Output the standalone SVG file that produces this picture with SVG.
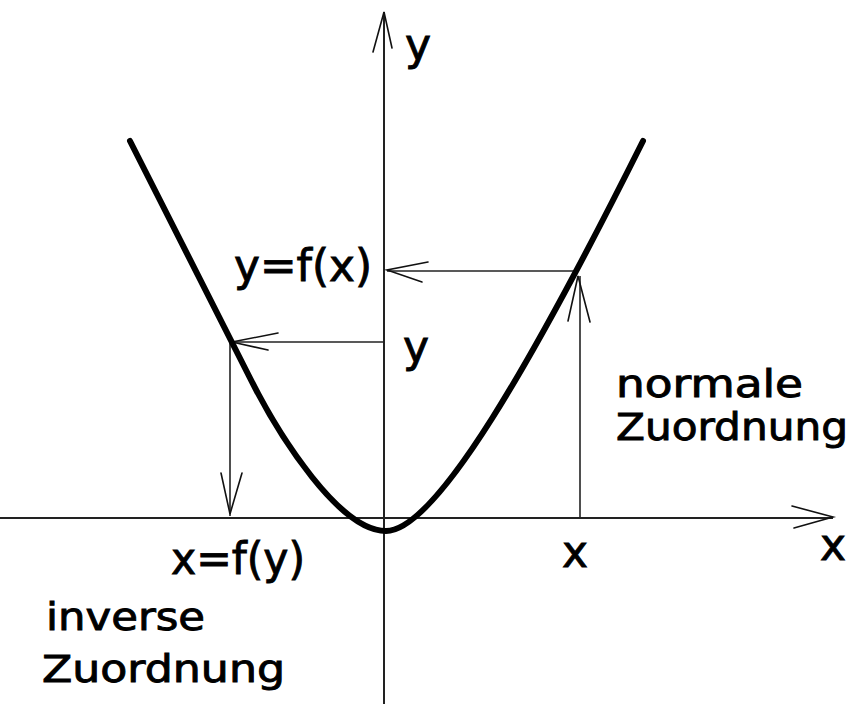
<svg xmlns="http://www.w3.org/2000/svg" width="855" height="704" viewBox="0 0 855 704">
<style>
.ax{stroke:#222;stroke-width:2;fill:none}
.ln{stroke:#222;stroke-width:1.6;fill:none}
.hd{stroke:#111;stroke-width:1.6;fill:none;stroke-linecap:round}
.crv{stroke:#000;stroke-width:6;fill:none;stroke-linecap:round;stroke-linejoin:round}
.m{font-family:"DejaVu Sans",sans-serif;font-size:44px;fill:#000;stroke:#000;stroke-width:0.9}
.w{font-family:"DejaVu Sans",sans-serif;font-size:37px;fill:#000;stroke:#000;stroke-width:0.9}
</style>
<rect width="855" height="704" fill="#fff"/>
<g id="connectors">
  <g id="x-axis">
    <line class="ax" x1="0" y1="518" x2="833" y2="518"/>
    <path class="hd" d="M792,506 L833,517 L794,528"/>
  </g>
  <g id="y-axis">
    <line class="ax" x1="384" y1="704" x2="384" y2="12"/>
    <path class="hd" d="M373,52 L384,12 L392,48"/>
  </g>
  <g id="arrow-up-x">
    <line class="ln" x1="580" y1="518" x2="580" y2="276"/>
    <path class="hd" d="M568,321 L578,276 L590,322"/>
  </g>
  <g id="arrow-left-fx">
    <line class="ln" x1="577" y1="271" x2="387" y2="271"/>
    <path class="hd" d="M428,262 L387,270 L422,282"/>
  </g>
  <g id="arrow-left-y">
    <line class="ln" x1="384" y1="342" x2="232" y2="342"/>
    <path class="hd" d="M278,333 L232,342 L268,350"/>
  </g>
  <g id="arrow-down-fy">
    <line class="ln" x1="230" y1="342" x2="230" y2="516"/>
    <path class="hd" d="M221,473 L230,514 L242,473"/>
  </g>
</g>
<g id="curve">
  <path class="crv" d="M130,141 L250,378 C280,438 340,531 386,531 C436,531 533,361 643,141"/>
</g>
<g id="label-y-axis"><text class="m" x="405" y="60">y</text></g>
<g id="label-x-axis"><text class="m" x="820" y="560">x</text></g>
<g id="label-yfx"><text class="m" x="234" y="281" textLength="138" lengthAdjust="spacingAndGlyphs">y=f(x)</text></g>
<g id="label-y"><text class="m" x="403" y="362">y</text></g>
<g id="label-x"><text class="m" x="562" y="567">x</text></g>
<g id="label-xfy"><text class="m" x="171" y="574" textLength="134" lengthAdjust="spacingAndGlyphs">x=f(y)</text></g>
<g id="label-normale">
  <text class="w" x="616" y="397" textLength="187" lengthAdjust="spacingAndGlyphs">normale</text>
  <text class="w" x="616" y="440" textLength="232" lengthAdjust="spacingAndGlyphs">Zuordnung</text>
</g>
<g id="label-inverse">
  <text class="w" x="46" y="630" textLength="159" lengthAdjust="spacingAndGlyphs">inverse</text>
  <text class="w" x="42" y="682" textLength="243" lengthAdjust="spacingAndGlyphs">Zuordnung</text>
</g>
</svg>
